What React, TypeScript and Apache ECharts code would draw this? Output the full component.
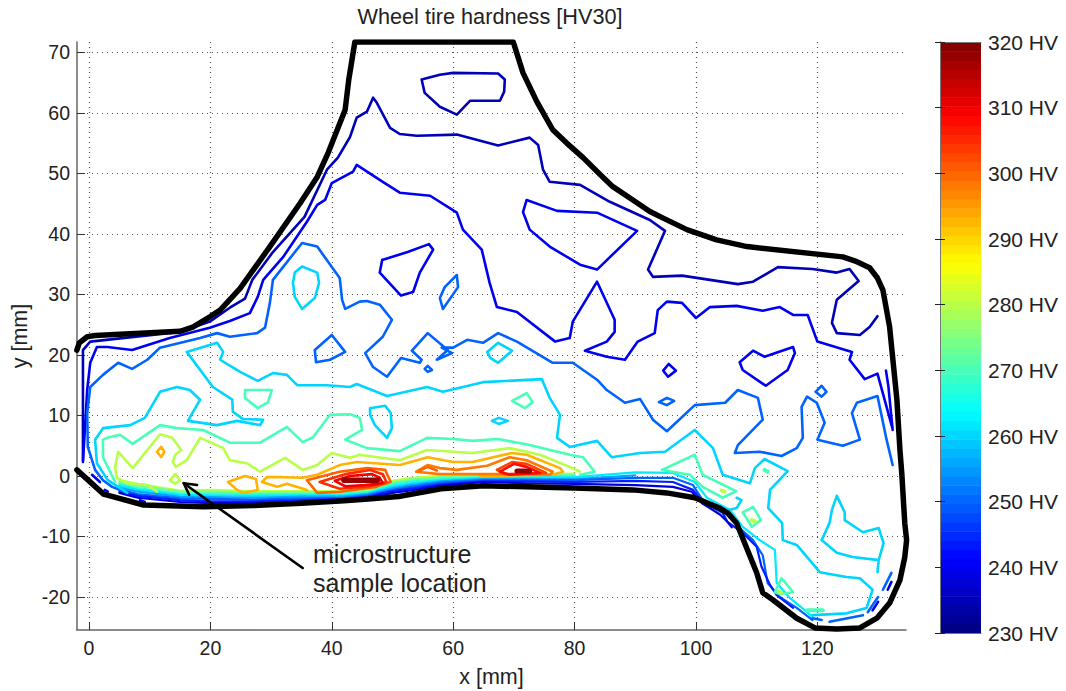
import React, { useEffect, useRef } from "react";
import * as echarts from "echarts";

type P = [number, number];

const xTicks = [0, 20, 40, 60, 80, 100, 120];
const yTicks = [-20, -10, 0, 10, 20, 30, 40, 50, 60, 70];
const colorbarSteps = [230,231.4,232.8,234.2,235.6,237,238.4,239.8,241.3,242.7,244.1,245.5,246.9,248.3,249.7,251.1,252.5,253.9,255.3,256.7,258.1,259.5,260.9,262.3,263.8,265.2,266.6,268,269.4,270.8,272.2,273.6,275,276.4,277.8,279.2,280.6,282,283.4,284.8,286.3,287.7,289.1,290.5,291.9,293.3,294.7,296.1,297.5,298.9,300.3,301.7,303.1,304.5,305.9,307.3,308.8,310.2,311.6,313,314.4,315.8,317.2,318.6];

const outline: P[] = [[-2,20.8],[-1.6,22],[-0.3,23],[1,23.2],[15,23.9],[17.1,24.6],[19.9,26.3],[21.6,27.4],[24.9,31],[29.8,37.9],[34.8,45.1],[37.6,49.4],[39.4,53.4],[42.2,60.5],[42.8,65.5],[43.8,71.7],[69.9,71.7],[71.5,66.6],[73.8,61.8],[76.4,57.2],[78.7,55],[81.4,52.6],[84.2,49.8],[86.3,47.8],[89.6,45.6],[92.4,43.7],[94.6,42.6],[98.5,40.7],[103.4,39],[108.4,37.9],[124.2,36.2],[126.5,35.4],[128.6,34.4],[129.9,32.7],[130.8,30.7],[131.4,27.4],[131.9,24.6],[133.1,12.6],[133.6,4.3],[133.9,0.5],[134.4,-7.8],[134.7,-10.6],[134.4,-13.4],[133.6,-17.2],[131.9,-21],[129.8,-23.5],[127,-25.1],[123.2,-25.3],[119.6,-25.1],[116.6,-23.5],[112.7,-20.5],[111,-19.3],[110,-16],[106.7,-7.8],[105.2,-6.1],[103.9,-5.3],[99.8,-3.6],[95.2,-2.8],[89.6,-2.3],[80,-2],[72,-1.8],[65,-1.6],[58,-2.1],[51,-3.4],[46,-3.8],[42,-4.1],[35,-4.5],[27,-4.9],[19,-5.1],[9,-4.8],[2.4,-3],[-2,1]];

const navyMain: P[] = [[-1,2.6],[-1,20.8],[0.2,22.2],[15,23.8],[19.9,25.5],[23.2,27.8],[25.7,29.3],[26.9,32.4],[30.3,37],[35.5,42.8],[39.2,50.6],[41,52.6],[43,56],[44.1,59.2],[45.8,60.2],[46.8,62.5],[47.4,61.7],[49.6,57.5],[51.2,56.5],[54,56.2],[60.6,56.4],[67.4,54.6],[72.6,55.9],[74,54.7],[74.8,50.6],[75.9,48.6],[80.9,48.1],[85.8,45.3],[92.4,42.3],[94.9,40.5],[92.1,34.1],[92.9,32.9],[97.7,33.1],[106.9,31.7],[109.4,32.1],[113.5,34.5],[119.2,34.2],[123.2,33.6],[125.3,34.2],[126.8,32.2],[123.2,29.1],[122.4,25.3],[123.2,23.6],[127,23.3],[128.6,24.6],[129.9,26.4]];
const navyTop: P[] = [[54.8,65.5],[57.8,66.3],[60,66.6],[67.4,66.5],[68.5,65.5],[68.4,63.5],[67.7,62],[62.8,62],[60.6,59.7],[57.8,61],[55.3,63.3],[54.8,65.5]];

const blueMain: P[] = [[-1,2.3],[-0.3,14.2],[0.2,18.7],[1.3,21.3],[3,21.3],[7.1,20.8],[13.3,22.8],[19.9,24.5],[23.2,25.6],[26.5,26.9],[27.8,29.6],[28.7,32.4],[32,36.2],[35.9,42],[37.6,44.8],[38.9,45.6],[40,48.4],[43.5,50.3],[44.1,51.4],[48.4,48.6],[51.2,46.8],[56.2,46.3],[60.6,43.5],[61.6,40.7],[64.7,37.4],[66,31.9],[67.2,27.9],[70.5,27.1],[76.8,22.2],[79.2,22.8],[79.7,25.5],[83.7,32.1],[86.6,25.8],[86.6,23.8],[85.3,22.2],[81.7,20.7],[85.3,19.7],[88.3,19.2],[90.4,22.2],[93.2,23.6],[93.7,27.4],[95.2,28.8],[97.7,28.6],[100,26.1],[102.3,27.9],[106.7,28.1],[111,27.3],[113.8,27.9],[116,26.6],[118.4,26.6],[120,22.2],[125.7,20.5],[125.3,19.2],[127.8,16],[129.9,16.9],[132.3,8.1]];
const blueA: P[] = [[72.1,45.6],[77.1,43.8],[83.7,43.5],[90.3,40.5],[83.7,34.1],[80.9,34.9],[75.9,37.9],[72.6,40.7],[71.5,43.6],[72.1,45.6]];
const blueB: P[] = [[48.3,35.7],[52.5,37],[56,38.3],[56.7,37.4],[54.5,33.6],[53.4,30.4],[51.4,29.8],[47.9,33.6],[48.3,35.7]];
const blueC: P[] = [[107.2,18.8],[109.4,20.7],[111.3,19.7],[116,21.3],[116.3,20.3],[115.1,17.5],[111.5,14.9],[107.7,17.5],[107.2,18.8]];
const blueD: P[] = [[94.6,17.4],[95.5,18.5],[96.7,17.4],[95.4,16.4],[94.6,17.4]];
const blueE: P[] = [[131.3,17.4],[131.7,14.8],[132.4,7.6]];

const azureMain: P[] = [[5.9,-2.6],[3.8,-1.8],[2.3,-0.7],[1,1],[-0.2,4.8],[-0.3,10.4],[0.2,14.7],[2.3,16.7],[4.8,18.7],[7.1,17.7],[9.6,19.2],[11.7,21.2],[18.3,22.8],[21.1,23.6],[23.2,23],[27.7,23.6],[29,24.5],[29.8,28.6],[30.3,32.4],[35.1,38.5],[37.6,37.9],[41.3,32.7],[41.7,29.1],[42.2,27.6],[44.6,28.8],[45.8,28.9],[47.9,28.3],[49.9,25.8],[48.4,23],[45.5,20.3],[46.8,18],[49.1,16.4],[51.4,19.5],[54.5,18.7],[54.8,19.2],[53.2,20.7],[55.8,23.6],[59.1,20.8],[57.3,19.2],[59.8,20.3],[58.1,21.2],[60,21.2],[62.3,22.5],[64.9,22],[67.4,23.6],[70.5,22.2],[76.4,18.7],[79.7,18.7],[83.7,15.9],[85.3,14.2],[88.3,12.1],[90.8,12.7],[92.9,9.3],[95.2,7.4],[99.8,11.7],[104.8,12.1],[106.9,14.2],[110.2,12.9],[111,9.3],[106.9,5.1],[106.4,3.8],[110.5,4],[114.1,3.3],[116.6,4.6],[117.6,6.3],[117.4,11.4],[118.3,13.1],[119.9,12.1],[121.2,8.8],[120,6],[124.2,5],[127,6],[125.7,10.4],[126.5,12.1],[129.9,13.2],[131.4,6],[132.4,1.8]];
const azureA: P[] = [[93.9,12.2],[95.2,12.9],[96.4,12.4],[95.2,11.7],[93.9,12.2]];
const azureB: P[] = [[119.7,13.9],[120.7,14.9],[121.5,13.9],[120.7,13.1],[119.7,13.9]];
const azureC: P[] = [[37.2,20.8],[40,23.3],[42.2,20.5],[39.7,19.2],[37.4,18.8],[37.2,20.8]];
const azureD: P[] = [[55.3,17.7],[55.8,18.2],[56.5,17.5],[55.8,17.2],[55.3,17.7]];
const azureE: P[] = [[60.6,33.2],[60.8,31.2],[58.3,27.6],[57.8,29.4],[58.6,31.2],[60.6,33.2]];
const azureDash1: P[] = [[130.8,-18.8],[132.2,-16]];
const azureDash2: P[] = [[128.3,-22.5],[130,-20]];
const azureDash3: P[] = [[122,-24.1],[127.5,-23]];
const azureDash4: P[] = [[119.2,-23.5],[120.7,-23.8]];
const blueDash1: P[] = [[131.6,-18.8],[132.2,-17.5]];
const blueDash2: P[] = [[129.1,-22.2],[130,-20.8]];
const blueDash3: P[] = [[0.5,0.2],[1.8,-1]];
const blueDash4: P[] = [[2.6,-2.3],[3.1,-2.6]];
const blueDash5: P[] = [[8.4,-4],[9.2,-4.3]];

const cyanMain: P[] = [[6.3,-2.8],[3.1,-0.7],[1.3,2.1],[1,6],[2.3,7.9],[6.8,8.4],[9.2,9.6],[11.7,13.9],[14.5,14.7],[16.6,14.2],[18.3,12.6],[16.3,9.1],[21.1,8.4],[24.4,9.1],[28.2,8.4],[28.7,9.3],[25.4,9.4],[23.7,10.6],[23.6,12.6],[20.4,14.7],[16.1,20.5],[21.1,22],[22.1,20.5],[21.6,19.2],[24.9,17.2],[27.8,15.7],[30.3,17],[32.6,16.7],[34.3,15],[39.2,15],[43,14.7],[44.1,15.2],[49.1,13.2],[55.7,14.7],[58.3,13.9],[64.9,15.5],[74.6,16],[75.9,12.9],[77.6,10.1],[77.1,6.3],[79.2,4.8],[83.7,5.8],[86.1,3.1],[90.8,3.8],[94.9,4],[99.8,7.6],[102.8,4.6],[104.4,0.2],[108.9,-1.2],[109.7,1.3],[111.3,2.8],[115.1,0.8],[112.2,-2.3],[111.9,-5.3],[114.2,-7.8],[114.3,-10.6],[116.6,-11.4],[120.4,-15.9],[124.8,-16.7],[127,-16.9],[129.1,-18.8],[128.1,-21.8],[124.8,-22.7],[119.2,-23]];
const cyanA: P[] = [[35.1,34.6],[37.6,33.6],[37.9,31.9],[37.2,29.4],[35.1,27.6],[33.9,29.6],[33.6,31.9],[33.9,33.6],[35.1,34.6]];
const cyanB: P[] = [[65.6,20.5],[67.4,22],[69.7,20.7],[67.4,18.7],[66.1,19.5],[65.6,20.5]];
const cyanC: P[] = [[46.3,11.2],[48.8,11.6],[49.7,10.4],[49.9,7.9],[49.1,6.3],[47.1,8.4],[46.3,10.1],[46.3,11.2]];
const cyanD: P[] = [[66.4,9.1],[67.5,9.6],[69,9.1],[67.5,8.6],[66.4,9.1]];
const cyanE: P[] = [[123.2,-3.3],[124.5,-6],[124.5,-7.3],[127.5,-9.3],[130.1,-8.6],[130.9,-11.1],[130.1,-13.9],[129.9,-15.9],[130.1,-13.9],[125.8,-13.4],[123.2,-12.7],[120.7,-10.6],[122,-7.8],[122.4,-5.6],[123.2,-3.3]];
const cyanF: P[] = [[106.7,-3.6],[107.5,-4],[106.7,-5.3],[105.6,-5.6]];

const greenMain: P[] = [[4.3,-1],[2.3,3.1],[2.3,6],[3,6.3],[5.1,6.8],[7.2,5.3],[11.7,8.4],[14.5,7.9],[18.8,7.6],[23.2,5.5],[28.2,5.5],[32.6,8.1],[35.2,5.6],[36.9,6.4],[39.7,10.1],[43,10.2],[44.6,9.6],[45,7.6],[42.2,6],[45.8,4.6],[51.2,4.1],[55.7,6.3],[60,6.1],[63.2,5.8],[67.4,6.1],[72.6,5.1],[79.2,3.5],[81.4,3.1],[83.3,0.7],[80.9,0.2]];
const greenA: P[] = [[25.7,14.2],[30.1,14.2],[29.5,12.2],[27.8,11.2],[25.7,12.9],[25.7,14.2]];
const greenB: P[] = [[69.7,12.4],[72.1,13.7],[73.1,12.2],[71.8,11.2],[69.7,12.4]];
const greenC: P[] = [[94.4,1],[99.8,3.5],[101.1,0.2],[106.6,-2.5],[104.4,-3.6],[101.1,-1.8],[99,0.2],[94.4,1]];
const greenD: P[] = [[107.7,-6],[109.4,-5.1],[110.7,-7.3],[109.2,-8.4],[107.7,-6]];
const greenE: P[] = [[114.1,-16.9],[116,-19.2],[113.8,-19.5],[113,-19.2],[114.1,-16.9]];
const greenF: P[] = [[118.3,-22.2],[120.9,-22.2]];
const greenG: P[] = [[111.3,1],[111.8,0.7]];

const limeMain: P[] = [[11.2,-2.6],[9.6,-1.5],[6.3,-1.2],[4.6,-0.3],[4.3,1.5],[4.8,4],[7.2,1.3],[11.7,6.9],[13.7,6.3],[15.2,4.3],[14.2,3.5],[13.8,2.3],[14.3,1.5],[16.1,2.6],[18.3,6.3],[19.9,5.6],[22.1,4.6],[23.2,2.6],[26,2.1],[28.2,0.7],[32.3,3],[35.2,1],[37.6,1.8],[40,3.8],[43,3],[44.6,3.5],[51.2,2.6],[55.7,4.3],[60,4],[63.2,3.8],[69.3,4.6],[74.3,3.5],[79.7,1.3],[80.9,0.7]];
const limeA: P[] = [[13.3,-0.7],[14.2,0.3],[15,-0.7],[14.2,-1.3],[13.3,-0.7]];
const limeDot1: P[] = [[104.2,-2.4],[104.7,-2.6]];
const limeDot2: P[] = [[109.2,-7.3],[109.7,-7.5]];
const limeDot3: P[] = [[113.6,-19.1],[114,-19.3]];

const orangeMain: P[] = [[35.9,-2.3],[32.6,-1.3],[31,-1.8],[28.5,-1],[29.3,-0.2],[32,-0.2],[35.2,-0.3],[37.6,0.2],[41.3,1.8],[44.1,2.3],[51.2,1.8],[55.8,3.1],[60,2.3],[63.2,2.3],[69.7,3.8],[72.1,3.5],[77.6,1.3],[78.1,0.7],[76.4,0.2],[64.4,0]];
const orangeA: P[] = [[22.9,-1],[25.7,0],[27.5,-0.5],[27.8,-2.3],[25.4,-2.8],[24.4,-2.3],[22.9,-1]];
const orangeB: P[] = [[11.2,4],[11.9,4.8],[12.4,4],[11.9,3.1],[11.2,4]];

const hot300A: P[] = [[35.9,-0.7],[41.3,0.7],[45.8,1.3],[48.8,1],[49.7,-1],[47.3,-1.8],[41.3,-2.6],[37.6,-2.8],[35.9,-0.7]];
const hot305A: P[] = [[38,-1],[42.2,0.3],[46.3,1],[48.4,0.3],[49,-1],[46.3,-1.7],[41.3,-2.1],[38,-1]];
const hot310A: P[] = [[40.5,-0.8],[43,0],[46.6,0.3],[47.9,-0.3],[48.4,-1.2],[45.5,-1.5],[42.2,-1.7],[40.5,-0.8]];
const hotCoreA: P[] = [[42,-0.7],[47.5,-0.7]];
const hot298B: P[] = [[53.9,0.7],[55.8,1.8],[57.8,1.3],[60.6,1],[65.6,1.7],[69.3,3.1],[72.1,2.6],[76.4,0.7],[75.9,0.2],[67.2,0.3],[57.8,0.3],[53.9,0.7]];
const hot303B: P[] = [[67.2,1],[69.7,2.3],[72.1,2],[75.3,0.5],[68.5,0.3],[67.2,1]];
const hot308B: P[] = [[67.7,0.7],[70,2],[72.1,1.5],[74.3,0.5],[69.3,0.2],[67.7,0.7]];
const hot300B: P[] = [[54.5,0.9],[55.8,1.5],[57.3,0.9]];
const hotCoreB: P[] = [[70.5,0.8],[72.6,0.8]];

const bandX = [5, 8, 15, 20, 27, 35, 42, 46, 50, 53, 58, 65, 72, 80, 90];
const band280 = [-0.7,-1.3,-2.4,-2.3,-2.5,-2.5,-2.5,-2.3,-0.8,-0.3,0,0.2,0.25,0.4];
const band274 = [-1,-1.6,-2.6,-2.6,-2.8,-2.7,-2.7,-2.5,-1.1,-0.6,-0.2,0,0.1,0.2];
const band268 = [-1.3,-2,-2.9,-2.9,-3,-3,-2.9,-2.7,-1.4,-0.9,-0.5,-0.2,-0.1,0];
const band262 = [-1.6,-2.3,-3.1,-3.2,-3.3,-3.2,-3.2,-2.9,-1.7,-1.2,-0.7,-0.4,-0.3,-0.2,0.6];
const band256 = [-1.9,-2.6,-3.4,-3.5,-3.6,-3.4,-3.4,-3,-2,-1.5,-0.9,-0.5,-0.5,-0.5,0.1];
const band250 = [-2.2,-3,-3.7,-3.8,-3.9,-3.7,-3.6,-3.2,-2.3,-1.8,-1.1,-0.7,-0.7,-0.7,-0.3];
const band244 = [-2.5,-3.3,-4,-4.2,-4.2,-4,-3.8,-3.4,-2.5,-2.1,-1.4,-0.9,-0.9,-1,-0.8];
const band238 = [-2.8,-3.6,-4.3,-4.5,-4.5,-4.3,-4,-3.6,-2.8,-2.4,-1.6,-1,-1.2,-1.3,-1.5];

const tail262: P[] = [[96.2,0.5],[99.8,-1],[101.8,-3.6],[105.6,-5.6],[107.7,-8.4],[110.5,-10.6],[113,-12.2],[113.3,-17.7],[115.5,-20.2],[118.3,-22.5],[119.2,-23.3]];
const tail250: P[] = [[96.2,-0.3],[99.5,-1.5],[101.1,-4],[105,-6],[107.2,-8.6],[109.4,-10.6],[111,-13.1],[111.8,-17.7],[113.8,-20],[116.6,-21.8],[119.2,-23.8]];
const tail244: P[] = [[96.2,-1],[99.5,-2.3],[101.1,-4.3],[104.4,-6.1],[105.2,-7.6],[107.7,-9.4],[110,-11.7],[110.8,-15],[112.2,-18],[113.3,-19.7],[116,-21.8]];
const tail238: P[] = [[96.2,-1.8],[99.3,-2.6],[101,-4.5],[104,-6.4],[105.2,-7.6],[105.9,-8.5]];

const arrowShaft: P[] = [[35.2,-15.2],[15.6,-1.2]];
const arrowHead: P[] = [[17.8,-1.5],[15.6,-1.2],[16.5,-3.1]];

const contourTable: [number, P[], number?][] = [
  [235, navyMain], [235, navyTop],
  [240, blueMain], [240, blueA], [240, blueB], [240, blueC], [240, blueD], [240, blueE],
  [240, blueDash1], [240, blueDash2], [240, blueDash3], [240, blueDash4], [240, blueDash5],
  [250, azureMain], [250, azureA], [250, azureB], [250, azureC], [250, azureD], [250, azureE],
  [250, azureDash1], [250, azureDash2], [250, azureDash3], [250, azureDash4],
  [260, cyanMain], [260, cyanA], [260, cyanB], [260, cyanC], [260, cyanD], [260, cyanE], [260, cyanF],
  [270, greenMain], [270, greenA], [270, greenB], [270, greenC], [270, greenD], [270, greenE], [270, greenF, 4], [270, greenG, 4],
  [280, limeMain], [280, limeA], [280, limeDot1, 4], [280, limeDot2, 4], [280, limeDot3, 4],
  [293, orangeMain], [293, orangeA], [293, orangeB],
  [298, hot298B], [300, hot300A], [300, hot300B], [303, hot303B], [305, hot305A], [308, hot308B], [310, hot310A],
  [318, hotCoreA, 5.5], [318, hotCoreB, 5],
];

const bandTable: [number, number[], P[]][] = [
  [280, band280, []], [274, band274, []], [268, band268, []], [262, band262, tail262],
  [256, band256, []], [250, band250, tail250], [244, band244, tail244], [238, band238, tail238],
];

const clamp = (v: number) => Math.max(0, Math.min(1, v));
const jet = (value: number) => {
  const t = (value - 230) / 90;
  const c = (v: number) => Math.round(clamp(v) * 255);
  return `rgb(${c(Math.min(4 * t - 1.5, -4 * t + 4.5))},${c(Math.min(4 * t - 0.5, -4 * t + 3.5))},${c(Math.min(4 * t + 0.5, -4 * t + 2.5))})`;
};

const FONT = "Liberation Sans";
const TEXT = "#222";
const AXIS = "#666";

const lineSeries = (data: P[], color: string, width: number, z = 3) => ({
  type: "line",
  data,
  xAxisIndex: 0,
  yAxisIndex: 0,
  showSymbol: false,
  symbol: "none",
  smooth: false,
  silent: true,
  z,
  lineStyle: { color, width, cap: "round", join: "round" },
});

export default function App() {
  const ref = useRef<HTMLDivElement>(null);
  useEffect(() => {
    document.body.style.margin = "0";
    const chart = echarts.init(ref.current!, undefined, { renderer: "svg" });
    const series: any[] = [];
    bandTable.forEach(([level, ys, tail]) => {
      const pts = ys.map((y, i) => [bandX[i], y] as P).concat(tail);
      series.push(lineSeries(pts, jet(level), 2.2, 3));
    });
    contourTable.forEach(([level, pts, w]) => {
      series.push(lineSeries(pts, jet(level), w ?? 2.6, 4));
    });
    series.push(lineSeries(outline, "#000", 5.5, 5));
    series.push(lineSeries(arrowShaft, "#000", 2.6, 6));
    series.push(lineSeries(arrowHead, "#000", 2.6, 6));
    series.push({
      type: "custom",
      xAxisIndex: 1,
      yAxisIndex: 1,
      silent: true,
      z: 2,
      data: colorbarSteps.map((v, i) => [v, colorbarSteps[i + 1] ?? 320]),
      encode: { y: [0, 1] },
      renderItem: (_: any, api: any) => {
        const lo = api.value(0);
        const hi = api.value(1);
        const a = api.coord([0, lo]);
        const b = api.coord([1, hi]);
        return {
          type: "rect",
          shape: { x: a[0], y: b[1], width: b[0] - a[0], height: a[1] - b[1] + 0.5 },
          style: { fill: jet((lo + hi) / 2) },
        };
      },
    });

    chart.setOption({
      animation: false,
      backgroundColor: "#fff",
      title: {
        text: "Wheel tire hardness [HV30]",
        left: 485,
        top: 0,
        textAlign: "center",
        textStyle: { fontFamily: FONT, fontSize: 21.7, fontWeight: "normal", color: TEXT },
      },
      grid: [
        { left: 77, top: 42, width: 829, height: 588, outerBoundsMode: "none" },
        { left: 940, top: 42, width: 41, height: 591, outerBoundsMode: "none" },
      ],
      xAxis: [
        {
          type: "value",
          gridIndex: 0,
          min: -1.98,
          max: 134.6,
          name: "x [mm]",
          nameLocation: "middle",
          nameGap: 36,
          nameTextStyle: { fontFamily: FONT, fontSize: 21.5, color: TEXT },
          axisLine: { show: true, onZero: false, lineStyle: { color: AXIS, width: 1.5 } },
          axisTick: { show: true, inside: true, length: 8, lineStyle: { color: "#333" }, customValues: xTicks },
          axisLabel: { fontFamily: FONT, fontSize: 19.5, color: TEXT, margin: 8, customValues: xTicks },
          splitLine: { show: true, lineStyle: { type: [1, 4], color: "#555", width: 1.2 } },
        },
        {
          type: "value",
          gridIndex: 1,
          min: 0,
          max: 1,
          z: 10,
          axisLine: { show: true, lineStyle: { color: "#777", width: 1 } },
          axisTick: { show: false },
          axisLabel: { show: false },
          splitLine: { show: false },
        },
        {
          type: "value",
          gridIndex: 1,
          position: "top",
          min: 0,
          max: 1,
          z: 10,
          axisLine: { show: true, lineStyle: { color: "#777", width: 1 } },
          axisTick: { show: false },
          axisLabel: { show: false },
          splitLine: { show: false },
        },
      ],
      yAxis: [
        {
          type: "value",
          gridIndex: 0,
          min: -25.45,
          max: 71.7,
          name: "y [mm]",
          nameLocation: "middle",
          nameGap: 45,
          nameTextStyle: { fontFamily: FONT, fontSize: 21.5, color: TEXT },
          axisLine: { show: true, onZero: false, lineStyle: { color: AXIS, width: 1.5 } },
          axisTick: { show: true, inside: true, length: 8, lineStyle: { color: "#333" }, customValues: yTicks },
          axisLabel: { fontFamily: FONT, fontSize: 19.5, color: TEXT, margin: 7, customValues: yTicks },
          splitLine: { show: true, lineStyle: { type: [1, 4], color: "#555", width: 1.2 } },
        },
        {
          type: "value",
          gridIndex: 1,
          position: "right",
          min: 230,
          max: 320,
          interval: 10,
          z: 10,
          axisLine: { show: true, lineStyle: { color: "#777", width: 1 } },
          axisTick: { show: true, inside: true, length: 5, lineStyle: { color: "#222" } },
          axisLabel: { fontFamily: FONT, fontSize: 21, color: TEXT, margin: 7, formatter: "{value} HV" },
          splitLine: { show: false },
        },
        {
          type: "value",
          gridIndex: 1,
          position: "left",
          min: 230,
          max: 320,
          interval: 10,
          z: 10,
          axisLine: { show: true, lineStyle: { color: "#777", width: 1 } },
          axisTick: { show: true, inside: true, length: 5, lineStyle: { color: "#222" } },
          axisLabel: { show: false },
          splitLine: { show: false },
        },
      ],
      graphic: [
        {
          type: "text",
          left: 313,
          top: 541,
          z: 20,
          style: { text: "microstructure", font: `25px "${FONT}"`, fill: TEXT },
        },
        {
          type: "text",
          left: 313,
          top: 570,
          z: 20,
          style: { text: "sample location", font: `25px "${FONT}"`, fill: TEXT },
        },
      ],
      series,
    });
    return () => chart.dispose();
  }, []);
  return <div ref={ref} style={{ position: "fixed", left: 0, top: 0, width: 1066, height: 691 }} />;
}
